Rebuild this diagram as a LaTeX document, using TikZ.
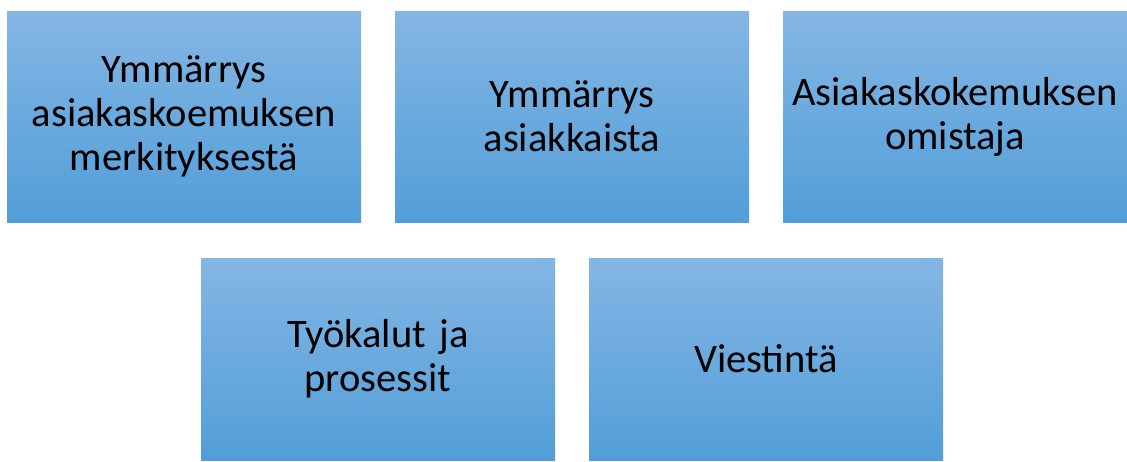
\documentclass[tikz,border=0pt]{standalone}
\usepackage{fontspec}
\setmainfont{Carlito}
\usepackage{tikz}
\usetikzlibrary{positioning}
\definecolor{boxtop}{HTML}{84B6E4}
\definecolor{boxbot}{HTML}{529ED8}

\begin{document}
\begin{tikzpicture}[x=1pt,y=-1pt,
  topic/.style={rectangle,top color=boxtop,bottom color=boxbot,inner sep=0pt,
    minimum width=354pt,minimum height=211pt,text width=340pt,align=center,
    font=\fontsize{40.5}{44}\selectfont},
  lowtopic/.style={topic,minimum height=202pt}]
  \useasboundingbox (0,0) rectangle (1127,461);
  \node[topic] (A) at (184,116.5) {Ymmärrys\\asiakaskoemuksen\\merkityksestä};
  \node[topic] (B) at (572,116.5) {Ymmärrys\\asiakkaista};
  \node[topic,minimum width=344pt] (C) at (955,116.5) {Asiakaskokemuksen\\omistaja};
  \node[lowtopic] (D) at (378,359) {Työkalut ja\\prosessit};
  \node[lowtopic] (E) at (766,359) {Viestintä};
\end{tikzpicture}
\end{document}
